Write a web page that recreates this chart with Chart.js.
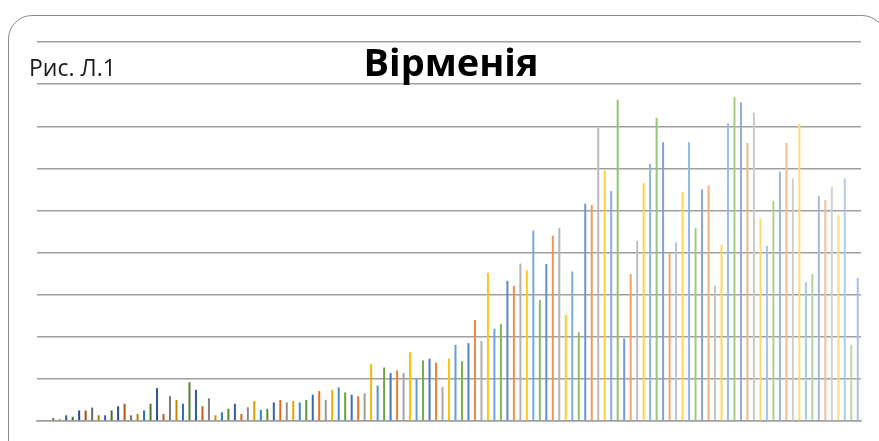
<!DOCTYPE html>
<html>
<head>
<meta charset="utf-8">
<script src="https://cdn.jsdelivr.net/npm/chart.js@4/dist/chart.umd.min.js"></script>
<style>
  html, body { margin: 0; padding: 0; background: #ffffff; }
  #wrap { position: relative; width: 879px; height: 441px; overflow: hidden; }
  #frame { position: absolute; left: 8px; top: 15px; width: 878px; height: 460px;
           border: 1px solid #8c8c8c; border-radius: 24px; box-sizing: border-box; }
  canvas { position: absolute; left: 0; top: 0; }
</style>
</head>
<body>
<div id="wrap">
  <div id="frame"></div>
  <canvas id="c" width="879" height="441"></canvas>
</div>
<script>
// ---- data ----
const chartTitle = 'Вірменія';
const figureLabel = 'Рис. Л.1';
const categories = Array.from({ length: 127 }, (_, i) => String(i + 1));
const values = [
  0, 0, 0.07, 0.04, 0.135, 0.10, 0.25, 0.25, 0.32, 0.135,
  0.135, 0.25, 0.35, 0.41, 0.135, 0.166, 0.25, 0.41, 0.78, 0.166,
  0.59, 0.50, 0.41, 0.92, 0.74, 0.35, 0.54, 0.135, 0.21, 0.29,
  0.41, 0.166, 0.325, 0.475, 0.26, 0.29, 0.44, 0.50, 0.44, 0.475,
  0.44, 0.50, 0.625, 0.71, 0.50, 0.74, 0.80, 0.68, 0.625, 0.59,
  0.66, 1.35, 0.84, 1.27, 1.14, 1.20, 1.14, 1.63, 1.00, 1.44,
  1.48, 1.39, 0.81, 1.48, 1.81, 1.42, 1.85, 2.40, 1.90, 3.52,
  2.19, 2.30, 3.33, 3.21, 3.74, 3.58, 4.52, 2.87, 3.73, 4.40,
  4.58, 2.52, 3.55, 2.11, 5.16, 5.13, 6.96, 5.95, 5.46, 7.63,
  1.96, 3.49, 4.28, 5.65, 6.10, 7.20, 6.62, 3.98, 4.24, 5.44,
  6.62, 4.58, 5.50, 5.59, 3.21, 4.18, 7.07, 7.69, 7.57, 6.60,
  7.32, 4.80, 4.16, 5.23, 5.92, 6.60, 5.76, 7.05, 3.30, 3.49,
  5.34, 5.25, 5.56, 4.89, 5.76, 1.81, 3.40
];
const axisMax = 9;
const axisStep = 1;

// ---- style ----
const accents = ['#4472C4', '#ED7D31', '#A5A5A5', '#FFC000', '#5B9BD5', '#70AD47'];

function hexToRgb(h) {
  const n = parseInt(h.slice(1), 16);
  return [(n >> 16) & 255, (n >> 8) & 255, n & 255];
}
function rgbToHsl(r, g, b) {
  r /= 255; g /= 255; b /= 255;
  const mx = Math.max(r, g, b), mn = Math.min(r, g, b);
  let h = 0, s = 0; const l = (mx + mn) / 2;
  if (mx !== mn) {
    const d = mx - mn;
    s = l > 0.5 ? d / (2 - mx - mn) : d / (mx + mn);
    if (mx === r) h = (g - b) / d + (g < b ? 6 : 0);
    else if (mx === g) h = (b - r) / d + 2;
    else h = (r - g) / d + 4;
    h /= 6;
  }
  return [h, s, l];
}
function hslToRgb(h, s, l) {
  if (s === 0) return [l * 255, l * 255, l * 255];
  const q = l < 0.5 ? l * (1 + s) : l + s - l * s, p = 2 * l - q;
  const f = t => {
    if (t < 0) t += 1; if (t > 1) t -= 1;
    if (t < 1 / 6) return p + (q - p) * 6 * t;
    if (t < 1 / 2) return q;
    if (t < 2 / 3) return p + (q - p) * (2 / 3 - t) * 6;
    return p;
  };
  return [f(h + 1 / 3) * 255, f(h) * 255, f(h - 1 / 3) * 255];
}
function tintShade(hex, t) {
  const [r, g, b] = hexToRgb(hex);
  let [h, s, l] = rgbToHsl(r, g, b);
  l = t < 0 ? l * (1 + t) : l + (1 - l) * t;
  const c = hslToRgb(h, s, l).map(v => Math.round(v));
  return `rgb(${c[0]},${c[1]},${c[2]})`;
}
const nCycles = Math.ceil(values.length / 6);
const shadeMin = -0.40, tintMax = 0.55;
const barColors = values.map((_, i) => {
  const cyc = Math.floor(i / 6);
  const t = shadeMin + (tintMax - shadeMin) * cyc / (nCycles - 1);
  return tintShade(accents[i % 6], t);
});

const textPlugin = {
  id: 'texts',
  afterDraw(chart) {
    const ctx = chart.ctx;
    ctx.save();
    ctx.fillStyle = '#000000';
    ctx.textBaseline = 'alphabetic';
    ctx.textAlign = 'center';
    ctx.font = "bold 38px 'Open Sans'";
    ctx.fillText(chartTitle, 451, 76);
    ctx.textAlign = 'left';
    ctx.fillStyle = '#1a1a1a';
    ctx.font = "23px 'Open Sans'";
    ctx.fillText(figureLabel, 29, 76);
    ctx.restore();
  }
};

new Chart(document.getElementById('c'), {
  type: 'bar',
  data: {
    labels: categories,
    datasets: [{
      data: values,
      backgroundColor: barColors,
      borderWidth: 0,
      barPercentage: 0.31,
      categoryPercentage: 1.0
    }]
  },
  options: {
    responsive: false,
    animation: false,
    devicePixelRatio: 1,
    layout: { padding: { left: 37, right: 18, top: 42, bottom: 20 } },
    plugins: { legend: { display: false }, tooltip: { enabled: false }, title: { display: false } },
    scales: {
      x: {
        grid: { display: false, drawTicks: false },
        ticks: { display: false },
        border: { display: true, color: '#a0a0a0', width: 1.4 }
      },
      y: {
        min: 0, max: axisMax,
        ticks: { display: false, stepSize: axisStep },
        grid: { color: '#a0a0a0', lineWidth: 1.4, drawTicks: false },
        border: { display: false }
      }
    }
  },
  plugins: [textPlugin]
});
</script>
</body>
</html>
